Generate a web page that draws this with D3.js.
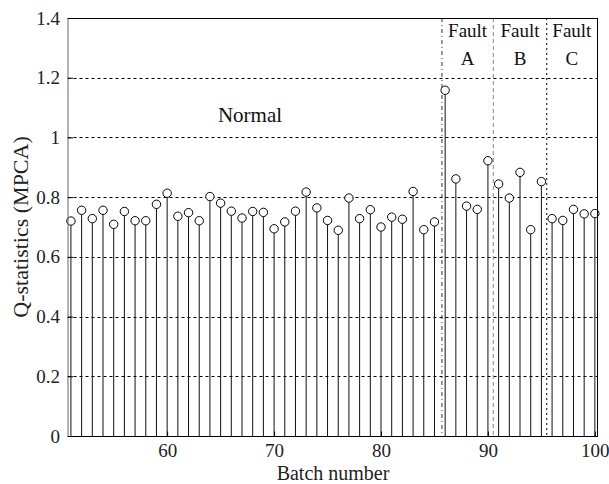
<!DOCTYPE html>
<html>
<head>
<meta charset="utf-8">
<script src="https://cdn.jsdelivr.net/npm/d3@7"></script>
<style>
  html, body { margin: 0; padding: 0; background: #fff; }
  svg { display: block; }
  svg text { font-family: "Liberation Serif", "Times New Roman", Times, "DejaVu Serif", serif; }
</style>
</head>
<body>
<svg id="chart" width="609" height="484"></svg>
<script>
// Batch numbers and Q-statistics from the MPCA monitoring model
const batches = d3.range(51, 101);
const qValues = [
  0.720, 0.756, 0.728, 0.756, 0.709, 0.752, 0.721, 0.721, 0.776, 0.813,
  0.736, 0.748, 0.721, 0.802, 0.780, 0.753, 0.730, 0.752, 0.749, 0.694,
  0.717, 0.753, 0.817, 0.764, 0.722, 0.689, 0.797, 0.728, 0.758, 0.700,
  0.733, 0.726, 0.819, 0.691, 0.717, 1.158, 0.861, 0.770, 0.759, 0.922,
  0.844, 0.797, 0.883, 0.691, 0.852, 0.728, 0.722, 0.759, 0.744, 0.745
];
const xTicks = [60, 70, 80, 90, 100];
const yTicks = [0, 0.2, 0.4, 0.6, 0.8, 1, 1.2, 1.4];
const yGrid = [0.2, 0.4, 0.6, 0.8, 1, 1.2];

// Boundaries between operating regions and their labels
const boundaries = [85.7, 90.5, 95.5];
const regionLabels = [
  { x0: 85.7, x1: 90.5, lines: ["Fault", "A"] },
  { x0: 90.5, x1: 95.5, lines: ["Fault", "B"] },
  { x0: 95.5, x1: 100.2, lines: ["Fault", "C"] }
];

const FONT = "Liberation Serif, Times New Roman, serif";
const svg = d3.select("#chart");
const L = 67.5, R = 597, T = 18, B = 436;

const x = d3.scaleLinear().domain([50.68, 100.2]).range([L, R]);
const y = d3.scaleLinear().domain([0, 1.4]).range([B, T]);

// Horizontal dashed grid
svg.append("g").selectAll("line").data(yGrid).join("line")
  .attr("x1", L).attr("x2", R)
  .attr("y1", d => Math.round(y(d)) + 0.5).attr("y2", d => Math.round(y(d)) + 0.5)
  .attr("stroke", "#000").attr("stroke-width", 1).attr("stroke-dasharray", "3,3");

// Region boundaries
const bStyles = [
  { color: "#333", dash: "4,3,1,3" },
  { color: "#888", dash: "4,3" },
  { color: "#000", dash: "2,3" }
];
svg.append("g").selectAll("line").data(boundaries).join("line")
  .attr("x1", d => x(d)).attr("x2", d => x(d))
  .attr("y1", T).attr("y2", B)
  .attr("stroke", (d, i) => bStyles[i].color)
  .attr("stroke-width", 1)
  .attr("stroke-dasharray", (d, i) => bStyles[i].dash);

// Stems
const R_MARK = 4.2;
const stems = svg.append("g");
stems.selectAll("line").data(batches).join("line")
  .attr("x1", d => x(d)).attr("x2", d => x(d))
  .attr("y1", B).attr("y2", (d, i) => y(qValues[i]) + R_MARK)
  .attr("stroke", "#111").attr("stroke-width", 1);

// Markers
stems.selectAll("circle").data(batches).join("circle")
  .attr("cx", d => x(d)).attr("cy", (d, i) => y(qValues[i]))
  .attr("r", R_MARK)
  .attr("fill", "#fff").attr("stroke", "#000").attr("stroke-width", 1);

// Axes box
const box = svg.append("g");
box.append("line").attr("x1", L).attr("x2", R).attr("y1", T + 0.5).attr("y2", T + 0.5).attr("stroke", "#000");
box.append("line").attr("x1", L).attr("x2", R).attr("y1", B + 0.5).attr("y2", B + 0.5).attr("stroke", "#000");
box.append("line").attr("x1", L + 0.5).attr("x2", L + 0.5).attr("y1", T).attr("y2", B + 1).attr("stroke", "#666");
box.append("line").attr("x1", R + 0.5).attr("x2", R + 0.5).attr("y1", T).attr("y2", B + 1).attr("stroke", "#000");

// Axes with inward ticks
const xAxis = svg.append("g").attr("transform", `translate(0,${B + 0.5})`)
  .call(d3.axisBottom(x).tickValues(xTicks).tickSizeInner(-5).tickSizeOuter(0).tickPadding(7));
const yAxis = svg.append("g").attr("transform", `translate(${L + 0.5},0)`)
  .call(d3.axisLeft(y).tickValues(yTicks).tickFormat(d3.format("~g")).tickSizeInner(-5).tickSizeOuter(0).tickPadding(8));
[xAxis, yAxis].forEach(g => {
  g.attr("font-family", FONT).attr("font-size", 19);
  g.select(".domain").remove();
  g.selectAll(".tick line").attr("stroke", "#000");
  g.selectAll("text").attr("fill", "#222");
});

// Axis titles
svg.append("text").attr("x", 333).attr("y", 480)
  .attr("text-anchor", "middle").attr("font-size", 20).attr("fill", "#222")
  .attr("font-family", FONT)
  .text("Batch number");
svg.append("text").attr("transform", `translate(28,${(T + B) / 2}) rotate(-90)`)
  .attr("text-anchor", "middle").attr("font-size", 22).attr("fill", "#222")
  .attr("font-family", FONT)
  .text("Q-statistics (MPCA)");

// Region annotations
svg.append("text").attr("x", 250).attr("y", 122)
  .attr("text-anchor", "middle").attr("font-size", 21).attr("fill", "#111")
  .attr("font-family", FONT)
  .text("Normal");
const rl = svg.append("g").attr("font-family", FONT).selectAll("g").data(regionLabels).join("g");
rl.append("text").attr("x", d => (x(d.x0) + x(d.x1)) / 2).attr("y", 37)
  .attr("text-anchor", "middle").attr("font-size", 19).attr("fill", "#111")
  .text(d => d.lines[0]);
rl.append("text").attr("x", d => (x(d.x0) + x(d.x1)) / 2).attr("y", 65)
  .attr("text-anchor", "middle").attr("font-size", 19).attr("fill", "#111")
  .text(d => d.lines[1]);
</script>
</body>
</html>
